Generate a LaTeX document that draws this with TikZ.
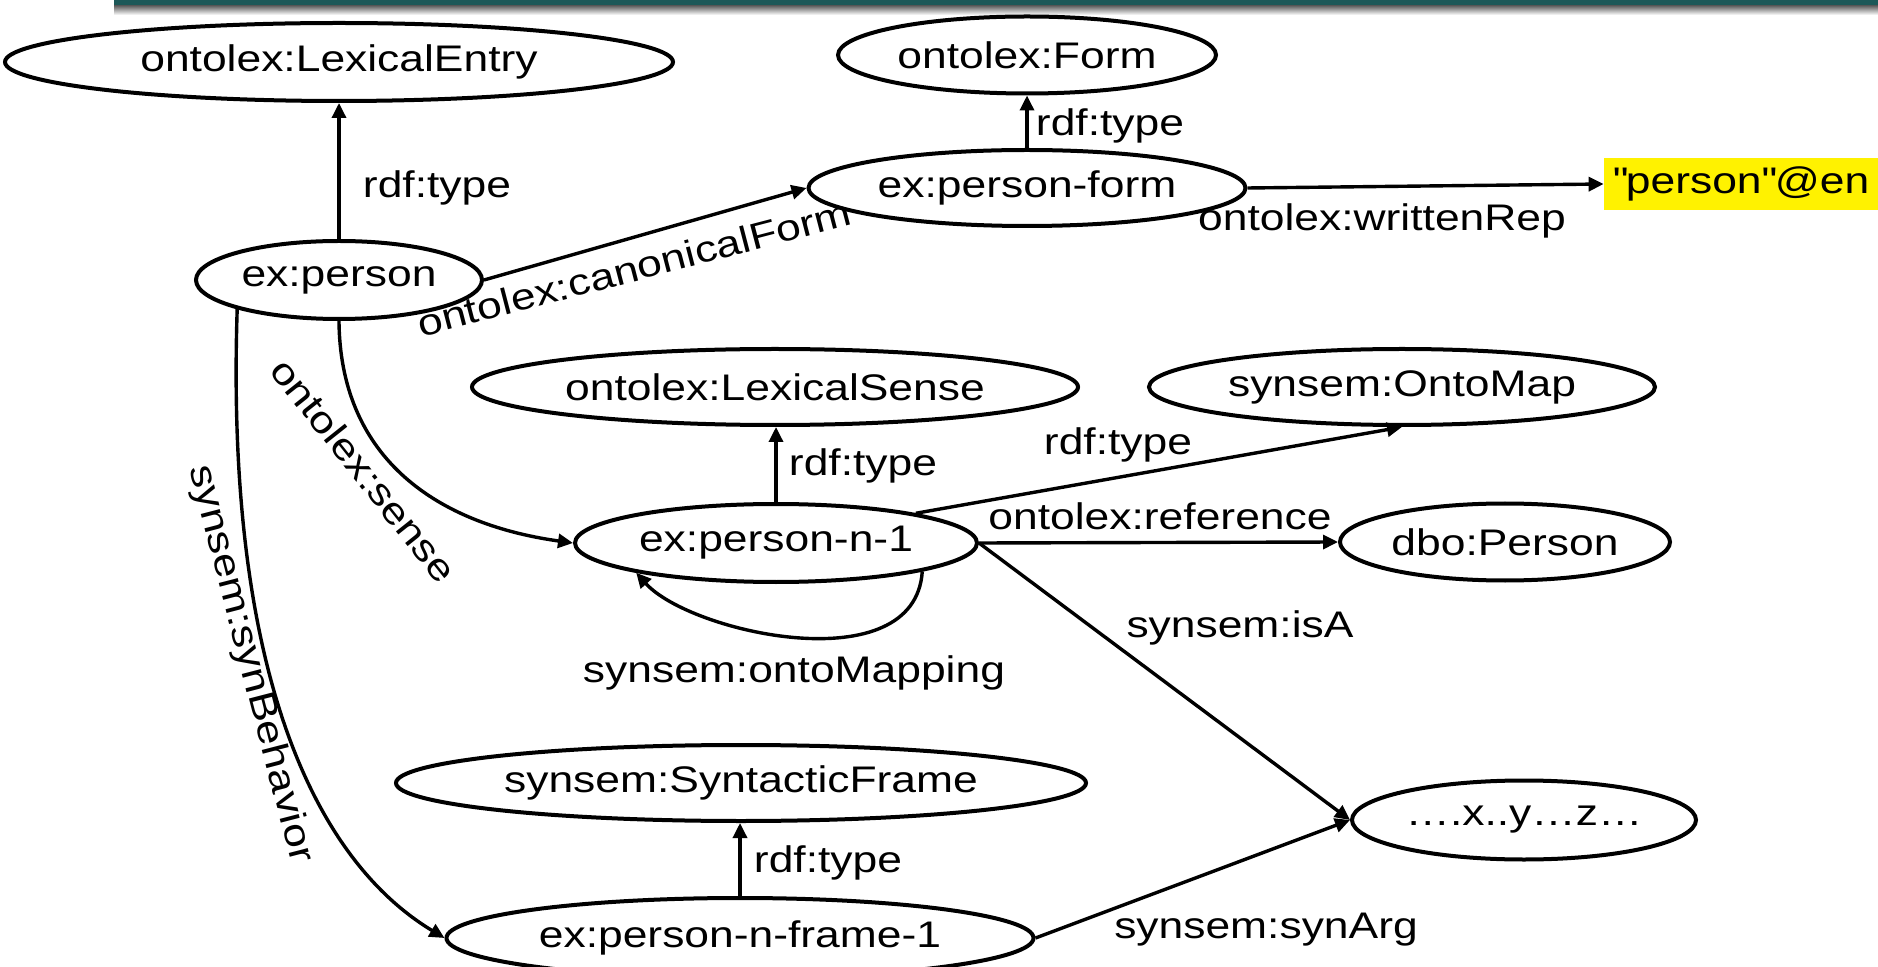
\documentclass[tikz,border=0pt]{standalone}
\usepackage{fontspec}
\setmainfont{Liberation Sans}[FakeStretch=1.2]
\usetikzlibrary{shapes.geometric,arrows.meta}
\newcommand{\dglabfont}{\fontsize{18.5pt}{22pt}\selectfont}
\newcommand{\sq}{\XeTeXglyph\XeTeXcharglyph"22\relax}
\definecolor{barteal}{RGB}{28,88,88}
\begin{document}
\begin{tikzpicture}[x=0.5pt,y=-0.5pt,
  ent/.style 2 args={ellipse,draw=black,line width=2pt,fill=white,inner sep=0pt,
     minimum width=#1*0.5pt,minimum height=#2*0.5pt,font=\dglabfont},
  conn/.style={line width=1.7pt,-{Triangle[length=7.5pt,width=7pt]}},
  lab/.style={inner sep=0pt,font=\dglabfont},
]
\useasboundingbox (0,0) rectangle (1878,967);
% top bar
\fill[barteal] (114,0) rectangle (1878,6);
\shade[top color=black!60,bottom color=white] (114,6) rectangle (1878,15);

\begin{scope}[shift={(0,3)}]
% nodes
\node[ent={668}{78}] (lexentry) at (339,59) {ontolex:LexicalEntry};
\node[ent={378}{77}] (form) at (1027,52) {ontolex:Form};
\node[ent={437}{76}] (pform) at (1027,185) {ex:person-form};
\node[fill=yellow,inner sep=0pt,minimum width=274*0.5pt,minimum height=52*0.5pt,font=\dglabfont] (lit) at (1741,181) {\sq person\sq @en};
\node[ent={286}{78}] (person) at (339,277) {ex:person};
\node[ent={606}{76}] (lexsense) at (775,384) {ontolex:LexicalSense};
\node[ent={506}{76}] (ontomap) at (1402,384) {synsem:OntoMap};
\node[ent={402}{78}] (pn1) at (776,540) {ex:person-n-1};
\node[ent={330}{77}] (dbo) at (1505,539) {dbo:Person};
\node[ent={344}{79}] (xyz) at (1524,817) {….x..y…z…};
\node[ent={690}{76}] (synframe) at (741,780) {synsem:SyntacticFrame};
\node[ent={587}{80}] (frame1) at (740,935) {ex:person-n-frame-1};

% connectors
\draw[conn] (person.north) -- (person.north |- lexentry.south);
\draw[conn] (person.east) -- (pform.west);
\draw[conn] (pform.north) -- (pform.north |- form.south);
\draw[conn] (pform.east) -- (lit.west);
\draw[conn] (person.south) .. controls (340,450) and (430,520) .. (pn1.west);
\draw[conn] (person.196) .. controls (225,680) and (320,860) .. (frame1.west);
\draw[conn] (pn1.north) -- (pn1.north |- lexsense.south);
\draw[conn] (pn1.12) -- (ontomap.south);
\draw[conn] (pn1.east) -- (dbo.west);
\draw[conn] (pn1.east) -- (xyz.west);
\draw[conn] (pn1.-11) .. controls (915,680) and (690,630) .. (pn1.192);
\draw[conn] (frame1.north) -- (frame1.north |- synframe.south);
\draw[conn] (frame1.east) -- (xyz.west);

% labels
\node[lab] (t1) at (437,185) {rdf:type};
\node[lab,rotate=14.6] (t2) at (634,265) {ontolex:canonicalForm};
\node[lab] (t3) at (1110,123) {rdf:type};
\node[lab] (t4) at (1382,218) {ontolex:writtenRep};
\node[lab,rotate=-51.5] (t5) at (364,467) {ontolex:sense};
\node[lab,rotate=-75.5] (t6) at (250,661) {synsem:synBehavior};
\node[lab] (t7) at (863,463) {rdf:type};
\node[lab] (t8) at (1118,442) {rdf:type};
\node[lab] (t9) at (1160,513) {ontolex:reference};
\node[lab] (t10) at (1240,625) {synsem:isA};
\node[lab] (t11) at (794,670) {synsem:ontoMapping};
\node[lab] (t12) at (828,860) {rdf:type};
\node[lab] (t13) at (1266,927) {synsem:synArg};
\end{scope}
\end{tikzpicture}
\end{document}
